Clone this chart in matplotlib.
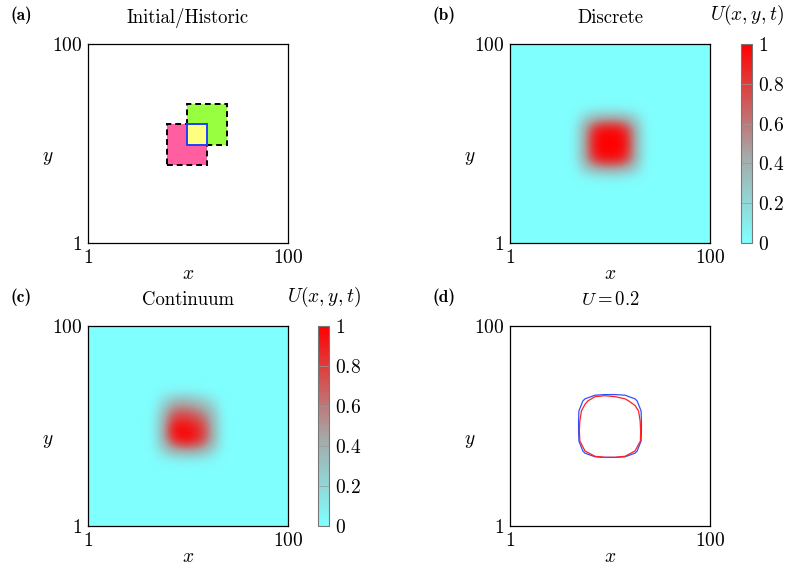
import numpy as np
import matplotlib
matplotlib.use("Agg")
import matplotlib.pyplot as plt
from matplotlib.colors import LinearSegmentedColormap
from matplotlib.patches import Rectangle

plt.rcParams['font.family'] = 'serif'
plt.rcParams['font.serif'] = ['cmr10']
plt.rcParams['mathtext.fontset'] = 'cm'
plt.rcParams['axes.unicode_minus'] = False

# initial squares: (x0, y0, side)
square_pink = (40, 40, 20)
square_green = (50, 50, 20)
square_overlap = (50, 50, 10)

# density patches (b) and (c), rows bottom -> top,
# covering the central 10x10 cells of a 20x20 grid over [1, 100]
discrete_patch = [
    [0, 0, 0, 0, 0, 0, 0, 0, 0, 0],
    [0, 0, .02, .04, .05, .05, .04, .02, 0, 0],
    [0, .02, .25, .42, .47, .47, .42, .25, .02, 0],
    [0, .04, .45, .85, .95, .95, .85, .45, .04, 0],
    [0, .05, .47, .95, 1, 1, .95, .47, .05, 0],
    [0, .05, .47, .95, 1, 1, .95, .47, .05, 0],
    [0, .04, .45, .85, .95, .95, .85, .45, .04, 0],
    [0, .02, .25, .42, .47, .47, .42, .25, .02, 0],
    [0, 0, .02, .04, .05, .05, .04, .02, 0, 0],
    [0, 0, 0, 0, 0, 0, 0, 0, 0, 0],
]
continuum_patch = [
    [0, 0, 0, 0, 0, 0, 0, 0, 0, 0],
    [0, 0, .02, .04, .05, .05, .04, .02, 0, 0],
    [0, .02, .2, .38, .45, .45, .38, .2, .02, 0],
    [0, .03, .38, .8, .95, .9, .75, .4, .03, 0],
    [0, .03, .42, .95, 1, .95, .8, .42, .03, 0],
    [0, .03, .38, .8, .88, .8, .7, .38, .03, 0],
    [0, .02, .3, .6, .65, .6, .5, .3, .02, 0],
    [0, 0, .15, .33, .38, .33, .25, .12, 0, 0],
    [0, 0, .02, .03, .04, .03, .02, 0, 0, 0],
    [0, 0, 0, 0, 0, 0, 0, 0, 0, 0],
]
contour_level = 0.2
cbar_ticks = [0, 0.2, 0.4, 0.6, 0.8, 1]

discrete = np.pad(np.array(discrete_patch), 5)
continuum = np.pad(np.array(continuum_patch), 5)
n = discrete.shape[0]
centers = 1 + 99 / n * (np.arange(n) + 0.5)

cmap = LinearSegmentedColormap.from_list(
    'cgr', [(0, '#80FFFF'), (0.45, '#A6A6A6'), (1, '#FF0000')])

fig = plt.figure(figsize=(7.88, 5.69), dpi=100)
W, H = 788, 569


def px_axes(x0, y0, x1, y1):
    return fig.add_axes([x0 / W, 1 - y1 / H, (x1 - x0) / W, (y1 - y0) / H])


def style(ax, title):
    ax.set_xlim(1, 100)
    ax.set_ylim(1, 100)
    ax.set_xticks([1, 100])
    ax.set_yticks([1, 100])
    ax.set_xticklabels(['$1$', '$100$'])
    ax.set_yticklabels(['$1$', '$100$'])
    ax.tick_params(length=0, labelsize=14, pad=4)
    ax.set_xlabel('$x$', fontsize=14)
    ax.set_ylabel('$y$', fontsize=14, rotation=0)
    ax.xaxis.set_label_coords(0.5, -0.11)
    ax.yaxis.set_label_coords(-0.2, 0.38)
    ax.set_title(title, fontsize=13.5, pad=15)
    for s in ax.spines.values():
        s.set_linewidth(0.9)


def add_cbar(im, x0, y0, y1):
    cax = px_axes(x0, y0, x0 + 11, y1)
    cb = fig.colorbar(im, cax=cax, ticks=cbar_ticks)
    cb.ax.set_yticklabels(['$%g$' % t for t in cbar_ticks])
    cb.ax.tick_params(labelsize=14, direction='in', length=7.5,
                      width=0.5, color='#999999', pad=4)
    cb.outline.set_edgecolor('#777777')
    cb.outline.set_linewidth(0.8)
    cax.set_title('$U(x,y,t)$', fontsize=14, pad=17)
    return cb


# (a)
axa = px_axes(88, 44, 288, 243)
for (x0, y0, s), fc in [(square_pink, '#FF5FA0'), (square_green, '#98FF40')]:
    axa.add_patch(Rectangle((x0, y0), s, s, facecolor=fc, edgecolor='black',
                            linestyle=(0, (3, 2)), linewidth=1.4))
x0, y0, s = square_overlap
axa.add_patch(Rectangle((x0, y0), s, s, facecolor='#FFFF80',
                        edgecolor='#2040FF', linewidth=1.4))
style(axa, 'Initial/Historic')

# (b)
axb = px_axes(510, 44, 710, 243)
imb = axb.imshow(discrete, origin='lower', extent=[1, 100, 1, 100],
                 cmap=cmap, vmin=0, vmax=1, interpolation='bicubic',
                 aspect='auto')
style(axb, 'Discrete')
add_cbar(imb, 741, 44, 243)

# (c)
axc = px_axes(88, 326, 288, 526)
imc = axc.imshow(continuum, origin='lower', extent=[1, 100, 1, 100],
                 cmap=cmap, vmin=0, vmax=1, interpolation='bicubic',
                 aspect='auto')
style(axc, 'Continuum')
add_cbar(imc, 318, 326, 526)

# (d)
axd = px_axes(510, 326, 710, 526)
axd.contour(centers, centers, discrete, levels=[contour_level],
            colors='#3050FF', linewidths=0.9)
axd.contour(centers, centers, continuum, levels=[contour_level],
            colors='#FF2020', linewidths=0.9)
style(axd, '$U = 0.2$')

for lab, x, y in [('a', 10, 15), ('b', 432, 15), ('c', 10, 297), ('d', 432, 297)]:
    fig.text(x / W, 1 - y / H, '(%s)' % lab, fontsize=12.5, family='cmb10',
             va='center', ha='left')

fig.savefig('out.png', dpi=100)
